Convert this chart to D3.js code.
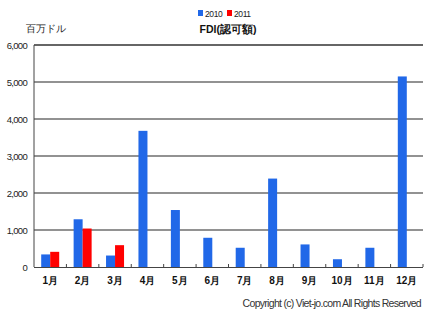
<!DOCTYPE html>
<html><head><meta charset="utf-8">
<script src="https://cdn.jsdelivr.net/npm/d3@7"></script>
<style>body{margin:0;background:#fff}svg{display:block}text{font-family:"Liberation Sans",Arial,sans-serif}</style>
</head><body><svg id="c" width="430" height="316"></svg>
<script>
const categories = ["1月","2月","3月","4月","5月","6月","7月","8月","9月","10月","11月","12月"];
const seriesNames = ["2010","2011"];
const values2010 = [340,1290,310,3680,1540,790,520,2390,610,210,520,5150];
const values2011 = [410,1040,590,null,null,null,null,null,null,null,null,null];
const yTicks = [0,1000,2000,3000,4000,5000,6000];
const colors = ["#2168E8","#FF0000"];

const svg = d3.select("#c");
const m = {l:34, r:423, t:45, b:267};
const x = d3.scaleBand().domain(categories).range([m.l, m.r]);
const y = d3.scaleLinear().domain([0,6000]).range([m.b, m.t]);

// gridlines
svg.append("g").selectAll("line").data(yTicks.filter(d=>d>0)).join("line")
  .attr("x1", m.l).attr("x2", m.r)
  .attr("y1", d=>y(d)).attr("y2", d=>y(d))
  .attr("stroke", d=>d===6000?"#333":"#6e6e6e").attr("stroke-width", 1.5);

// y axis labels
const yAxis = d3.axisLeft(y).tickValues(yTicks).tickSize(0).tickPadding(7).tickFormat(d3.format(","));
const ga = svg.append("g").attr("transform", `translate(${m.l},0)`).call(yAxis);
ga.select(".domain").remove();
ga.selectAll("text").attr("font-size", 9.5).attr("fill","#222").style("letter-spacing","-0.7px");

// bars
const bw = 9;
const series = [values2010, values2011];
series.forEach((vals, si) => {
  svg.append("g").selectAll("rect").data(categories.map((c,i)=>({c, v: vals[i]})).filter(d=>d.v!=null)).join("rect")
    .attr("x", d => x(d.c) + x.bandwidth()/2 - bw + si*bw)
    .attr("y", d => y(d.v))
    .attr("width", bw)
    .attr("height", d => y(0) - y(d.v))
    .attr("fill", colors[si]);
});

// axes lines
svg.append("line").attr("x1", m.l).attr("x2", m.l).attr("y1", m.t).attr("y2", m.b).attr("stroke","#444").attr("stroke-width",1);
svg.append("line").attr("x1", m.l).attr("x2", m.r).attr("y1", m.b+0.5).attr("y2", m.b+0.5).attr("stroke","#444").attr("stroke-width",1);
// x ticks between bands
svg.append("g").selectAll("line").data(categories.slice(1).concat(["end"])).join("line")
  .attr("x1", d => d==="end"? m.r : x(d)).attr("x2", d => d==="end"? m.r : x(d))
  .attr("y1", m.b-3).attr("y2", m.b).attr("stroke","#444");

// x labels
const xAxis = d3.axisBottom(x).tickSize(0).tickPadding(10);
const gx = svg.append("g").attr("transform", `translate(0,${m.b})`).call(xAxis);
gx.select(".domain").remove();
gx.selectAll("text").attr("font-size", 10).attr("font-weight","bold").attr("fill","#111").attr("font-family","'Noto Sans CJK JP',sans-serif");

// titles
svg.append("text").attr("x", 26).attr("y", 32).attr("font-size", 10).attr("fill","#222")
  .attr("font-family","'Noto Sans CJK JP',sans-serif").text("百万ドル");
svg.append("text").attr("x", 228).attr("y", 33).attr("text-anchor","middle").attr("font-size", 10.5).attr("font-weight","bold").attr("fill","#111")
  .attr("font-family","'Noto Sans CJK JP',sans-serif").text("FDI(認可額)");

// legend
const lx = [198, 227];
seriesNames.forEach((s,i)=>{
  svg.append("rect").attr("x", lx[i]).attr("y", 10).attr("width", 5).attr("height", 6).attr("fill", colors[i]);
  svg.append("text").attr("x", lx[i]+7).attr("y", 16.5).attr("font-size", 8.5).attr("fill","#222").style("letter-spacing","-0.4px").text(s);
});

// copyright
svg.append("text").attr("x", 421).attr("y", 307).attr("text-anchor","end").attr("font-size", 10.5).attr("fill","#333")
  .style("letter-spacing","-0.7px").text("Copyright (c) Viet-jo.com All Rights Reserved");
</script></body></html>
